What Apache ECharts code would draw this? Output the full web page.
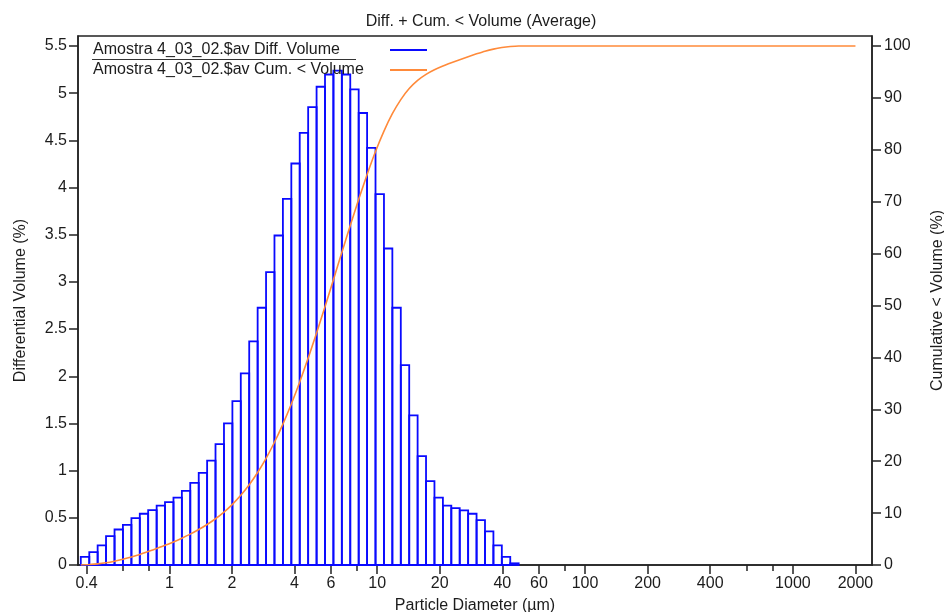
<!DOCTYPE html>
<html>
<head>
<meta charset="utf-8">
<title>Diff. + Cum. &lt; Volume (Average)</title>
<script src="https://cdn.jsdelivr.net/npm/echarts@6/dist/echarts.min.js"></script>
<style>
  html, body { margin: 0; padding: 0; background: #ffffff; }
  #chart { width: 944px; height: 612px; }
</style>
</head>
<body>
<div id="chart"></div>
<script>
// Channel edges of the size analyser (µm)
const channelEdges = [
  0.375, 0.412, 0.452, 0.496, 0.545, 0.598, 0.657, 0.721, 0.791, 0.869,
  0.953, 1.047, 1.149, 1.261, 1.385, 1.520, 1.668, 1.832, 2.011, 2.207,
  2.423, 2.660, 2.920, 3.205, 3.519, 3.863, 4.240, 4.655, 5.110, 5.610,
  6.158, 6.760, 7.421, 8.147, 8.943, 9.817, 10.78, 11.83, 12.99, 14.26,
  15.65, 17.18, 18.86, 20.71, 22.73, 24.95, 27.39, 30.07, 33.01, 36.24,
  39.78, 43.67, 47.94
];

// Differential volume (%) per channel (between consecutive edges)
const diffVolume = [
  0.087, 0.136, 0.207, 0.305, 0.376, 0.426, 0.496, 0.543, 0.581, 0.630,
  0.666, 0.715, 0.786, 0.871, 0.977, 1.107, 1.280, 1.500, 1.736, 2.030,
  2.369, 2.726, 3.103, 3.492, 3.881, 4.255, 4.580, 4.852, 5.068, 5.198,
  5.240, 5.198, 5.040, 4.790, 4.420, 3.930, 3.354, 2.726, 2.118, 1.586,
  1.153, 0.888, 0.715, 0.630, 0.602, 0.578, 0.543, 0.475, 0.356, 0.207,
  0.087, 0.018
];

// Cumulative < volume (%) at each channel edge
const cumVolume = [
  0, 0.09, 0.22, 0.43, 0.74, 1.11, 1.54, 2.03, 2.58, 3.16,
  3.79, 4.45, 5.17, 5.95, 6.83, 7.80, 8.91, 10.19, 11.69, 13.43,
  15.46, 17.82, 20.55, 23.65, 27.15, 31.03, 35.28, 39.86, 44.72, 49.78,
  54.98, 60.22, 65.42, 70.46, 75.25, 79.67, 83.60, 86.95, 89.68, 91.80,
  93.38, 94.54, 95.42, 96.14, 96.77, 97.37, 97.95, 98.49, 99.00, 99.40,
  99.70, 99.90, 100
];
// Cumulative curve continues flat to the top of the measuring range
const cumTail = [[2000, 100]];

// Axis ticks
const xMajorTicks = ['0.4', '1', '2', '4', '6', '10', '20', '40', '60', '100', '200', '400', '1000', '2000'];
const xMinorTicks = [0.6, 0.8, 8, 80, 600, 800];
const yLeftTicks = [0, 0.5, 1, 1.5, 2, 2.5, 3, 3.5, 4, 4.5, 5, 5.5];
const yRightTicks = [0, 10, 20, 30, 40, 50, 60, 70, 80, 90, 100];

const xRange = [0.3636, 2402];   // displayed diameter range (µm)
const yLeftMax = 5.606;
const yRightMax = 101.93;

const seriesDiff = 'Amostra 4_03_02.$av Diff. Volume';
const seriesCum = 'Amostra 4_03_02.$av Cum. < Volume';

const BLUE = '#0a0aff';
const ORANGE = '#ff8a3a';
const INK = '#1c1c1c';
const AXIS = '#222222';
const FONT = '"Liberation Sans", Arial, Helvetica, sans-serif';

// The diameter axis is logarithmic: positions are log10(µm)
const lg = Math.log10;

const barData = diffVolume.map((v, i) => [lg(channelEdges[i]), lg(channelEdges[i + 1]), v]);
const cumData = channelEdges.map((d, i) => [lg(d), cumVolume[i]])
  .concat(cumTail.map(p => [lg(p[0]), p[1]]));

function fmtDiameter(v) {
  return String(parseFloat(Math.pow(10, v).toPrecision(6)));
}

const axisLineStyle = { color: AXIS, width: 1.5 };

const chart = echarts.init(document.getElementById('chart'), null, { renderer: 'canvas' });

chart.setOption({
  animation: false,
  backgroundColor: '#ffffff',
  textStyle: { fontFamily: FONT },
  title: {
    text: 'Diff. + Cum. < Volume (Average)',
    left: 476,
    textAlign: 'center',
    top: 9,
    textStyle: { fontFamily: FONT, fontSize: 16, fontWeight: 'normal', color: INK }
  },
  grid: {
    left: 78, right: 72, top: 36, bottom: 47,
    containLabel: false,
    outerBoundsMode: 'none',
    show: true, borderColor: AXIS, borderWidth: 1.5, backgroundColor: 'transparent'
  },
  legend: {
    selectedMode: false,
    orient: 'vertical',
    left: 93,
    top: 42,
    padding: 0,
    itemGap: 4,
    align: 'right',
    itemWidth: 37,
    itemHeight: 2,
    data: [
      { name: seriesDiff, icon: 'rect', itemStyle: { color: BLUE } },
      { name: seriesCum, icon: 'rect', itemStyle: { color: ORANGE } }
    ],
    formatter: name => '{t|' + name + '}',
    textStyle: {
      rich: {
        t: { width: 292, align: 'left', fontSize: 16, lineHeight: 16, fontFamily: FONT, color: INK }
      }
    }
  },
  graphic: [{
    type: 'line',
    shape: { x1: 92, y1: 59.5, x2: 356, y2: 59.5 },
    style: { stroke: '#333', lineWidth: 1.2 },
    z: 10
  }],
  xAxis: [{
    type: 'value',
    position: 'bottom',
    min: lg(xRange[0]),
    max: lg(xRange[1]),
    name: 'Particle Diameter (µm)',
    nameLocation: 'middle',
    nameGap: 33,
    nameTextStyle: { fontFamily: FONT, fontSize: 16, color: INK },
    splitLine: { show: false },
    axisLine: { show: true, onZero: false, lineStyle: axisLineStyle },
    axisTick: {
      show: true, inside: false, length: 9,
      lineStyle: axisLineStyle,
      customValues: xMajorTicks.map(t => lg(Number(t)))
    },
    axisLabel: {
      show: true, margin: 11, fontSize: 16, color: INK, fontFamily: FONT,
      customValues: xMajorTicks.map(t => lg(Number(t))),
      formatter: fmtDiameter
    }
  }, {
    type: 'value',
    position: 'bottom',
    min: lg(xRange[0]),
    max: lg(xRange[1]),
    splitLine: { show: false },
    axisLine: { show: false, onZero: false },
    axisLabel: { show: false },
    axisTick: {
      show: true, inside: false, length: 6,
      lineStyle: axisLineStyle,
      customValues: xMinorTicks.map(t => lg(t))
    }
  }],
  yAxis: [{
    type: 'value',
    position: 'left',
    min: 0,
    max: yLeftMax,
    name: 'Differential Volume (%)',
    nameLocation: 'middle',
    nameGap: 49,
    nameTextStyle: { fontFamily: FONT, fontSize: 16, color: INK },
    splitLine: { show: false },
    axisLine: { show: true, onZero: false, lineStyle: axisLineStyle },
    axisTick: {
      show: true, length: 9,
      lineStyle: axisLineStyle,
      customValues: yLeftTicks
    },
    axisLabel: {
      margin: 11, fontSize: 16, color: INK, fontFamily: FONT,
      customValues: yLeftTicks
    }
  }, {
    type: 'value',
    position: 'right',
    min: 0,
    max: yRightMax,
    name: 'Cumulative < Volume (%)',
    nameLocation: 'middle',
    nameGap: 58,
    nameRotate: 90,
    nameTextStyle: { fontFamily: FONT, fontSize: 16, color: INK },
    splitLine: { show: false },
    axisLine: { show: true, onZero: false, lineStyle: axisLineStyle },
    axisTick: {
      show: true, length: 9,
      lineStyle: axisLineStyle,
      customValues: yRightTicks
    },
    axisLabel: {
      margin: 12, fontSize: 16, color: INK, fontFamily: FONT,
      customValues: yRightTicks
    }
  }],
  series: [{
    name: seriesDiff,
    type: 'custom',
    xAxisIndex: 0,
    yAxisIndex: 0,
    encode: { x: [0, 1], y: 2 },
    data: barData,
    itemStyle: { color: BLUE },
    renderItem: function (params, api) {
      const base = api.coord([api.value(0), 0]);
      const top = api.coord([api.value(1), api.value(2)]);
      return {
        type: 'rect',
        shape: { x: base[0], y: top[1], width: top[0] - base[0], height: base[1] - top[1] },
        style: { fill: 'none', stroke: BLUE, lineWidth: 1.8 }
      };
    },
    z: 3
  }, {
    name: seriesCum,
    type: 'line',
    xAxisIndex: 0,
    yAxisIndex: 1,
    data: cumData,
    showSymbol: false,
    symbol: 'none',
    smooth: 0.2,
    lineStyle: { color: ORANGE, width: 1.6 },
    itemStyle: { color: ORANGE },
    z: 4
  }]
});
</script>
</body>
</html>
